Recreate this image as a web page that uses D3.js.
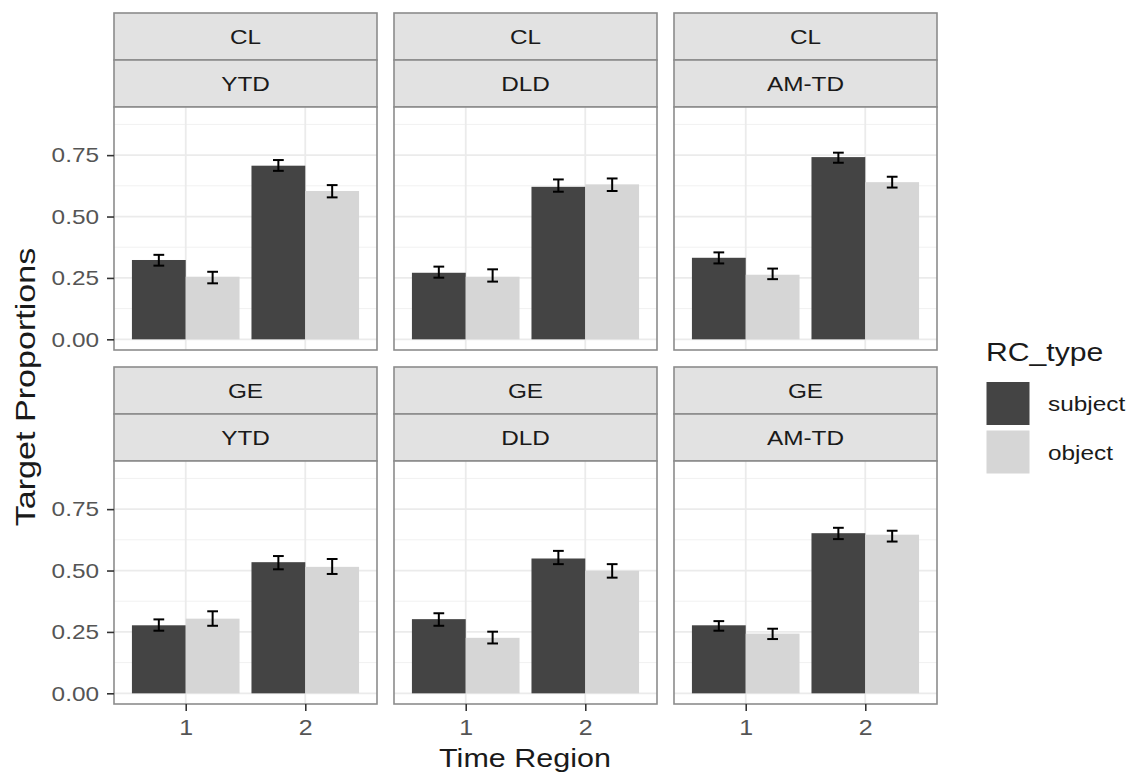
<!DOCTYPE html>
<html>
<head>
<meta charset="utf-8">
<script src="https://cdn.jsdelivr.net/npm/d3@7"></script>
<style>
  body { margin: 0; background: #fff; }
  text { font-family: "Liberation Sans", Arial, sans-serif; }
</style>
</head>
<body>
<div id="chart"></div>
<script>
// facets: rows = language group, columns = participant group
var rowLabels = ["CL", "GE"];
var colLabels = ["YTD", "DLD", "AM-TD"];
var times = [1, 2];
var types = ["subject", "object"];
var yTicks = [0, 0.25, 0.5, 0.75];

// one entry per panel (CL-YTD, CL-DLD, CL-AM-TD, GE-YTD, GE-DLD, GE-AM-TD), values for time 1 and 2
var subjectMean = [[0.323, 0.707], [0.271, 0.621], [0.332, 0.742], [0.277, 0.534], [0.302, 0.549], [0.277, 0.652]];
var subjectLow  = [[0.300, 0.686], [0.251, 0.601], [0.309, 0.719], [0.255, 0.505], [0.275, 0.526], [0.255, 0.628]];
var subjectHigh = [[0.344, 0.730], [0.296, 0.651], [0.354, 0.760], [0.301, 0.559], [0.326, 0.580], [0.294, 0.674]];
var objectMean  = [[0.255, 0.604], [0.255, 0.631], [0.263, 0.640], [0.304, 0.515], [0.226, 0.499], [0.243, 0.646]];
var objectLow   = [[0.228, 0.578], [0.235, 0.604], [0.245, 0.618], [0.275, 0.486], [0.203, 0.471], [0.221, 0.618]];
var objectHigh  = [[0.275, 0.628], [0.285, 0.655], [0.288, 0.662], [0.334, 0.547], [0.251, 0.526], [0.263, 0.662]];

(function () {
    'use strict';

    var W = 1141, H = 775;
    var SX = 1.16;            // the source font runs wider than Liberation Sans
    var fills = {subject: "#444444", object: "#d6d6d6"};

    var panelW = 263, panelH = 243, stripH = 47, gap = 17;
    var x0 = 114, y0 = 13;

    var svg = d3.select("#chart").append("svg")
        .attr("width", W)
        .attr("height", H);

    var col = d3.scaleBand().domain(colLabels).range([x0, x0 + 3 * panelW + 2 * gap]).paddingInner(gap / (panelW + gap));
    var x = d3.scaleLinear().domain([0.4, 2.6]).range([0, panelW]);
    var y = d3.scaleLinear().domain([-0.0435, 0.946]).range([panelH, 0]);
    var color = d3.scaleOrdinal().domain(types).range([fills.subject, fills.object]);

    function wideText(parent, tx, ty, str, size, rot, sx) {
        return parent.append("text")
            .attr("transform", "translate(" + tx + "," + ty + ")" + (rot ? " rotate(" + rot + ")" : "") + " scale(" + (sx || SX) + ",1)")
            .attr("font-size", size)
            .text(str);
    }

    function stretchAxisText(g) {
        g.selectAll("text").each(function () {
            var t = d3.select(this);
            var tx = +t.attr("x") || 0, ty = +t.attr("y") || 0;
            t.attr("x", null).attr("y", null)
                .attr("transform", "translate(" + tx + "," + ty + ") scale(" + SX + ",1)");
        });
    }

    rowLabels.forEach(function (rl, ri) {
        colLabels.forEach(function (cl, ci) {
            var k = ri * 3 + ci;
            var px = col(cl);
            var py = y0 + ri * (2 * stripH + panelH + gap);
            var g = svg.append("g").attr("transform", "translate(" + px + "," + py + ")");

            // two stacked strips
            [rl, cl].forEach(function (s, si) {
                g.append("rect")
                    .attr("x", 0).attr("y", si * stripH)
                    .attr("width", panelW).attr("height", stripH)
                    .attr("fill", "#e2e2e2").attr("stroke", "#8c8c8c").attr("stroke-width", 1.6);
                wideText(g, panelW / 2, si * stripH + stripH / 2, s, 21)
                    .attr("text-anchor", "middle")
                    .attr("dy", "0.36em")
                    .attr("fill", "#1a1a1a");
            });

            var p = g.append("g").attr("transform", "translate(0," + 2 * stripH + ")");
            p.append("rect").attr("width", panelW).attr("height", panelH).attr("fill", "#fff");

            // grid
            p.selectAll(".minor").data([0.125, 0.375, 0.625, 0.875]).enter().append("line")
                .attr("x1", 0).attr("x2", panelW)
                .attr("y1", function (d) { return y(d); }).attr("y2", function (d) { return y(d); })
                .attr("stroke", "#f1f1f1").attr("stroke-width", 1);
            p.selectAll(".majorY").data(yTicks).enter().append("line")
                .attr("x1", 0).attr("x2", panelW)
                .attr("y1", function (d) { return y(d); }).attr("y2", function (d) { return y(d); })
                .attr("stroke", "#ebebeb").attr("stroke-width", 1.8);
            p.selectAll(".majorX").data(times).enter().append("line")
                .attr("y1", 0).attr("y2", panelH)
                .attr("x1", function (d) { return x(d); }).attr("x2", function (d) { return x(d); })
                .attr("stroke", "#ebebeb").attr("stroke-width", 1.8);

            var rows = [];
            times.forEach(function (t, ti) {
                rows.push({type: "subject", t: t, off: -0.225, m: subjectMean[k][ti], lo: subjectLow[k][ti], hi: subjectHigh[k][ti]});
                rows.push({type: "object", t: t, off: 0.225, m: objectMean[k][ti], lo: objectLow[k][ti], hi: objectHigh[k][ti]});
            });

            p.selectAll(".bar").data(rows).enter().append("rect")
                .attr("x", function (d) { return x(d.t + d.off - 0.225); })
                .attr("width", x(0.45) - x(0))
                .attr("y", function (d) { return y(d.m); })
                .attr("height", function (d) { return y(0) - y(d.m); })
                .attr("fill", function (d) { return color(d.type); });

            // error bars
            var cap = (x(0.09) - x(0)) / 2;
            var eb = p.selectAll(".eb").data(rows).enter().append("g")
                .attr("stroke", "#000").attr("stroke-width", 2);
            eb.append("line")
                .attr("x1", function (d) { return x(d.t + d.off); }).attr("x2", function (d) { return x(d.t + d.off); })
                .attr("y1", function (d) { return y(d.lo); }).attr("y2", function (d) { return y(d.hi); });
            eb.append("line")
                .attr("x1", function (d) { return x(d.t + d.off) - cap; }).attr("x2", function (d) { return x(d.t + d.off) + cap; })
                .attr("y1", function (d) { return y(d.lo); }).attr("y2", function (d) { return y(d.lo); });
            eb.append("line")
                .attr("x1", function (d) { return x(d.t + d.off) - cap; }).attr("x2", function (d) { return x(d.t + d.off) + cap; })
                .attr("y1", function (d) { return y(d.hi); }).attr("y2", function (d) { return y(d.hi); });

            p.append("rect").attr("width", panelW).attr("height", panelH)
                .attr("fill", "none").attr("stroke", "#8c8c8c").attr("stroke-width", 1.6);

            if (ci === 0) {
                var ya = p.append("g")
                    .call(d3.axisLeft(y).tickValues(yTicks).tickFormat(d3.format(".2f")).tickSize(7).tickPadding(8));
                ya.select(".domain").remove();
                ya.selectAll("line").attr("stroke", "#333").attr("stroke-width", 1.6);
                ya.selectAll("text").attr("font-size", 21).attr("fill", "#555");
                ya.attr("font-family", null);
                stretchAxisText(ya);
            }
            if (ri === 1) {
                var xa = p.append("g")
                    .attr("transform", "translate(0," + panelH + ")")
                    .call(d3.axisBottom(x).tickValues(times).tickFormat(d3.format("d")).tickSize(7).tickPadding(9));
                xa.select(".domain").remove();
                xa.selectAll("line").attr("stroke", "#333").attr("stroke-width", 1.6);
                xa.selectAll("text").attr("font-size", 21.5).attr("fill", "#555");
                xa.attr("font-family", null);
                stretchAxisText(xa);
            }
        });
    });

    // axis titles
    wideText(svg, 525, 767, "Time Region", 26.3).attr("text-anchor", "middle").attr("fill", "#1a1a1a");
    wideText(svg, 35, 387, "Target Proportions", 27.5, -90, 1.24).attr("text-anchor", "middle").attr("fill", "#1a1a1a");

    // legend
    var lg = svg.append("g").attr("transform", "translate(986,0)");
    wideText(lg, 0, 361, "RC_type", 26).attr("fill", "#1a1a1a");
    types.forEach(function (t, i) {
        lg.append("rect")
            .attr("x", 0.5).attr("y", 382 + i * 48.5)
            .attr("width", 43).attr("height", 43)
            .attr("fill", color(t));
        wideText(lg, 62, 382 + i * 48.5 + 21.5, t, 21).attr("dy", "0.36em").attr("fill", "#1a1a1a");
    });
})();
</script>
</body>
</html>
